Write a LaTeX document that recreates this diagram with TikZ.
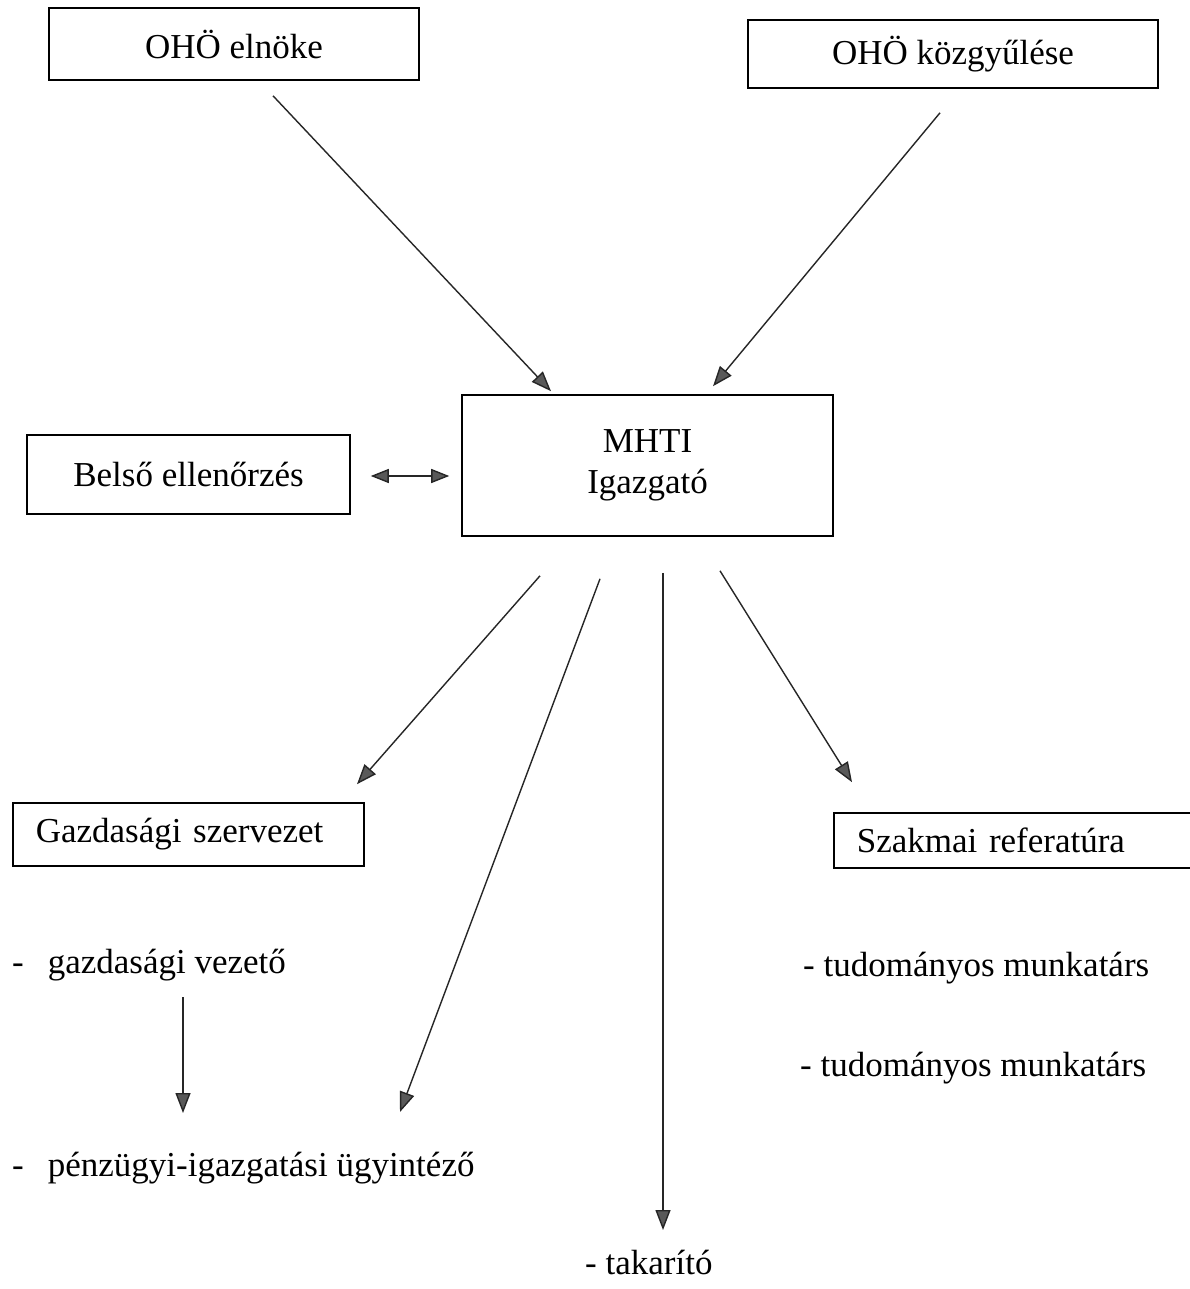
\documentclass[tikz,border=0pt]{standalone}
\usepackage{fontspec}
\setmainfont{Liberation Serif}
\usepackage{tikz}
\usetikzlibrary{shapes, arrows.meta}
\tikzstyle{doboz} = [draw=black, line width=1.6pt, rectangle, inner sep=0pt]
\tikzstyle{balra} = [doboz, align=left, inner xsep=23pt]
\tikzstyle{tetel} = [anchor=west, inner sep=0pt]
\tikzstyle{nyil} = [draw=black!85, line width=1.4pt, -{Triangle[length=20pt,width=15pt,fill=black!65]}]
\tikzstyle{ketnyil} = [draw=black!85, line width=1.4pt, {Triangle[length=18pt,width=14pt,fill=black!65]}-{Triangle[length=18pt,width=14pt,fill=black!65]}]

\begin{document}
\begin{tikzpicture}[x=1pt, y=-1pt, font=\fontsize{35}{41}\selectfont]
	\clip (0,0) rectangle (1190,1289);
	\fill[white] (0,0) rectangle (1190,1289);
	% felso szint
	\node [doboz, minimum width=370pt, minimum height=72pt] (elnoke) at (234,44) {OHÖ elnöke};
	\node [doboz, minimum width=410pt, minimum height=68pt] (kozgy) at (953,54) {OHÖ közgyűlése};
	\node [doboz, minimum width=371pt, minimum height=141pt, align=center] (mhti) at (647.5,465.5) {MHTI\\Igazgató};
	\node [doboz, minimum width=323pt, minimum height=79pt] (belso) at (188.5,474.5) {Belső ellenőrzés};
	% also szint
	\node [balra, text width=305pt, minimum height=63pt, anchor=west] (gazd) at (12,834.5) {Gazdasági szervezet};
	\node [balra, text width=321pt, minimum height=55pt, anchor=west] (szak) at (833,840.5) {Szakmai referatúra};
	\node [tetel] (vez) at (12,965) {-\hspace{24pt}gazdasági vezető};
	\node [tetel] (penz) at (12,1168) {-\hspace{24pt}pénzügyi-igazgatási ügyintéző};
	\node [tetel] (tud1) at (803,968) {- tudományos munkatárs};
	\node [tetel] (tud2) at (800,1068) {- tudományos munkatárs};
	\node [tetel] (tak) at (585,1262) {- takarító};
	% nyilak
	\draw [nyil] ([shift={(39,15)}]elnoke.south) -- ([shift={(-96.5,-3)}]mhti.north);
	\draw [nyil] ([shift={(-13,24)}]kozgy.south) -- ([shift={(65.5,-8)}]mhti.north);
	\draw [ketnyil] ([shift={(20,1.5)}]belso.east) -- ([shift={(-12,10.5)}]mhti.west);
	\draw [nyil] ([shift={(-107.5,39)}]mhti.south) -- ([shift={(345,-18)}]gazd.north west);
	\draw [nyil] ([shift={(-47.5,42)}]mhti.south) -- ([shift={(388,-56)}]penz.west);
	\draw [nyil] ([shift={(15.5,36)}]mhti.south) -- ([shift={(78,-32)}]tak.west);
	\draw [nyil] ([shift={(72.5,34)}]mhti.south) -- ([shift={(19,-30)}]szak.north west);
	\draw [nyil] ([shift={(171,32)}]vez.west) -- ([shift={(171,-55)}]penz.west);
\end{tikzpicture}
\end{document}
